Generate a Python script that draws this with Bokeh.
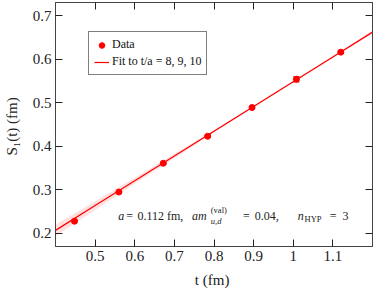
from bokeh.plotting import figure
from bokeh.models import (Range1d, FixedTicker, LinearAxis, Whisker, TeeHead,
                          ColumnDataSource, Legend, LegendItem, Label)
from bokeh.embed import file_html
from bokeh.resources import INLINE

# ---- data ----
t_fm = [0.448, 0.560, 0.672, 0.784, 0.896, 1.008, 1.120]
s1 = [0.228, 0.295, 0.361, 0.423, 0.489, 0.554, 0.616]
s1_err = [0.002, 0.002, 0.002, 0.002, 0.0025, 0.006, 0.003]

fit_t = [0.4, 0.5, 0.6, 0.7, 0.8, 0.9, 1.0, 1.1, 1.2]
fit_s = [0.207, 0.2639, 0.3208, 0.3776, 0.4345, 0.4914, 0.5483, 0.6051, 0.662]
fit_err = [0.013, 0.010, 0.007, 0.005, 0.003, 0.002, 0.0015, 0.002, 0.003]

x_ticks = [0.5, 0.6, 0.7, 0.8, 0.9, 1.0, 1.1]
y_ticks = [0.2, 0.3, 0.4, 0.5, 0.6, 0.7]

legend_labels = ["Data", "Fit to t/a = 8, 9, 10"]

# annotation pieces: text, x, y, font size, style
ann_text = ["a", "=", "0.112", "fm,", "am", "(val)", "u,d", "=", "0.04,", "n", "HYP", "=", "3"]
ann_x = [0.5584, 0.5786, 0.6070, 0.6815, 0.7447, 0.7919, 0.7919, 0.8729, 0.9028,
         1.0116, 1.0286, 1.0918, 1.1242]
ann_y = [0.2391, 0.2391, 0.2391, 0.2391, 0.2391, 0.2540, 0.2296, 0.2391, 0.2391,
         0.2391, 0.2333, 0.2391, 0.2391]
ann_size = ["12px", "12px", "12px", "12px", "12px", "8.5px", "8.5px", "12px", "12px",
            "12px", "8.5px", "12px", "12px"]
ann_style = ["italic", "normal", "normal", "normal", "italic", "normal", "italic",
             "normal", "normal", "italic", "normal", "normal", "normal"]

FONT = "Liberation Serif"
RED = "#ff0000"
AX = "#444444"

p = figure(width=374, height=290, x_range=Range1d(0.4, 1.2), y_range=Range1d(0.17, 0.73),
           output_backend="svg", toolbar_location=None,
           min_border_left=49, min_border_right=2, min_border_top=2, min_border_bottom=41)
p.grid.visible = False
p.outline_line_color = AX
p.background_fill_color = "white"

# band + fit line
lo = [s - e for s, e in zip(fit_s, fit_err)]
hi = [s + e for s, e in zip(fit_s, fit_err)]
p.varea(x=fit_t, y1=lo, y2=hi, fill_color=RED, fill_alpha=0.12)
fit_r = p.line(fit_t, fit_s, line_color=RED, line_width=1.2)

# data + error bars
src = ColumnDataSource(dict(t=t_fm, s=s1,
                            lo=[s - e for s, e in zip(s1, s1_err)],
                            hi=[s + e for s, e in zip(s1, s1_err)]))
w = Whisker(base="t", lower="lo", upper="hi", source=src, line_color=RED, line_width=1.2,
            upper_head=TeeHead(size=6, line_color=RED, line_width=1.2),
            lower_head=TeeHead(size=6, line_color=RED, line_width=1.2))
p.add_layout(w)
data_r = p.scatter("t", "s", source=src, size=6, color=RED)

# axes styling
def style_axis(ax, ticks, show_labels):
    ax.ticker = FixedTicker(ticks=ticks)
    ax.major_tick_in = 7
    ax.major_tick_out = 0
    ax.minor_tick_in = 0
    ax.minor_tick_out = 0
    ax.axis_line_color = AX
    ax.major_tick_line_color = "#222222"
    ax.major_label_text_font = FONT
    ax.major_label_text_color = "#222222"
    ax.axis_label_text_font = FONT
    ax.axis_label_text_font_style = "normal"
    ax.axis_label_text_color = "#222222"
    ax.axis_label_text_font_size = "15px"
    ax.major_label_text_font_size = "15px"
    if show_labels:
        ax.major_label_standoff = 4
    else:
        ax.major_label_overrides = {t: "" for t in ticks}
        ax.major_label_standoff = 0

style_axis(p.xaxis[0], x_ticks, True)
style_axis(p.yaxis[0], y_ticks, True)
p.xaxis[0].axis_label = "t  (fm)"
p.yaxis[0].axis_label = "S\u2081(t)  (fm)"
p.xaxis[0].axis_label_standoff = 8
p.yaxis[0].axis_label_standoff = 10

top = LinearAxis()
style_axis(top, x_ticks, False)
p.add_layout(top, "above")
right = LinearAxis()
style_axis(right, y_ticks, False)
p.add_layout(right, "right")

# legend
legend = Legend(items=[LegendItem(label=legend_labels[0], renderers=[data_r]),
                       LegendItem(label=legend_labels[1], renderers=[fit_r])],
                location=(33, 171), border_line_color="black", border_line_width=1,
                label_text_font=FONT, label_text_font_size="12px", label_text_color="#111111",
                glyph_width=15, glyph_height=14, label_height=14, spacing=2,
                padding=5, margin=0, label_standoff=3, background_fill_alpha=1)
p.add_layout(legend)

# annotation
for txt, x, y, sz, st in zip(ann_text, ann_x, ann_y, ann_size, ann_style):
    p.add_layout(Label(x=x, y=y, text=txt, text_font=FONT, text_font_size=sz,
                       text_font_style=st, text_align="left", text_baseline="alphabetic",
                       text_color="#222222"))

open("out.html", "w").write(file_html(p, INLINE))
